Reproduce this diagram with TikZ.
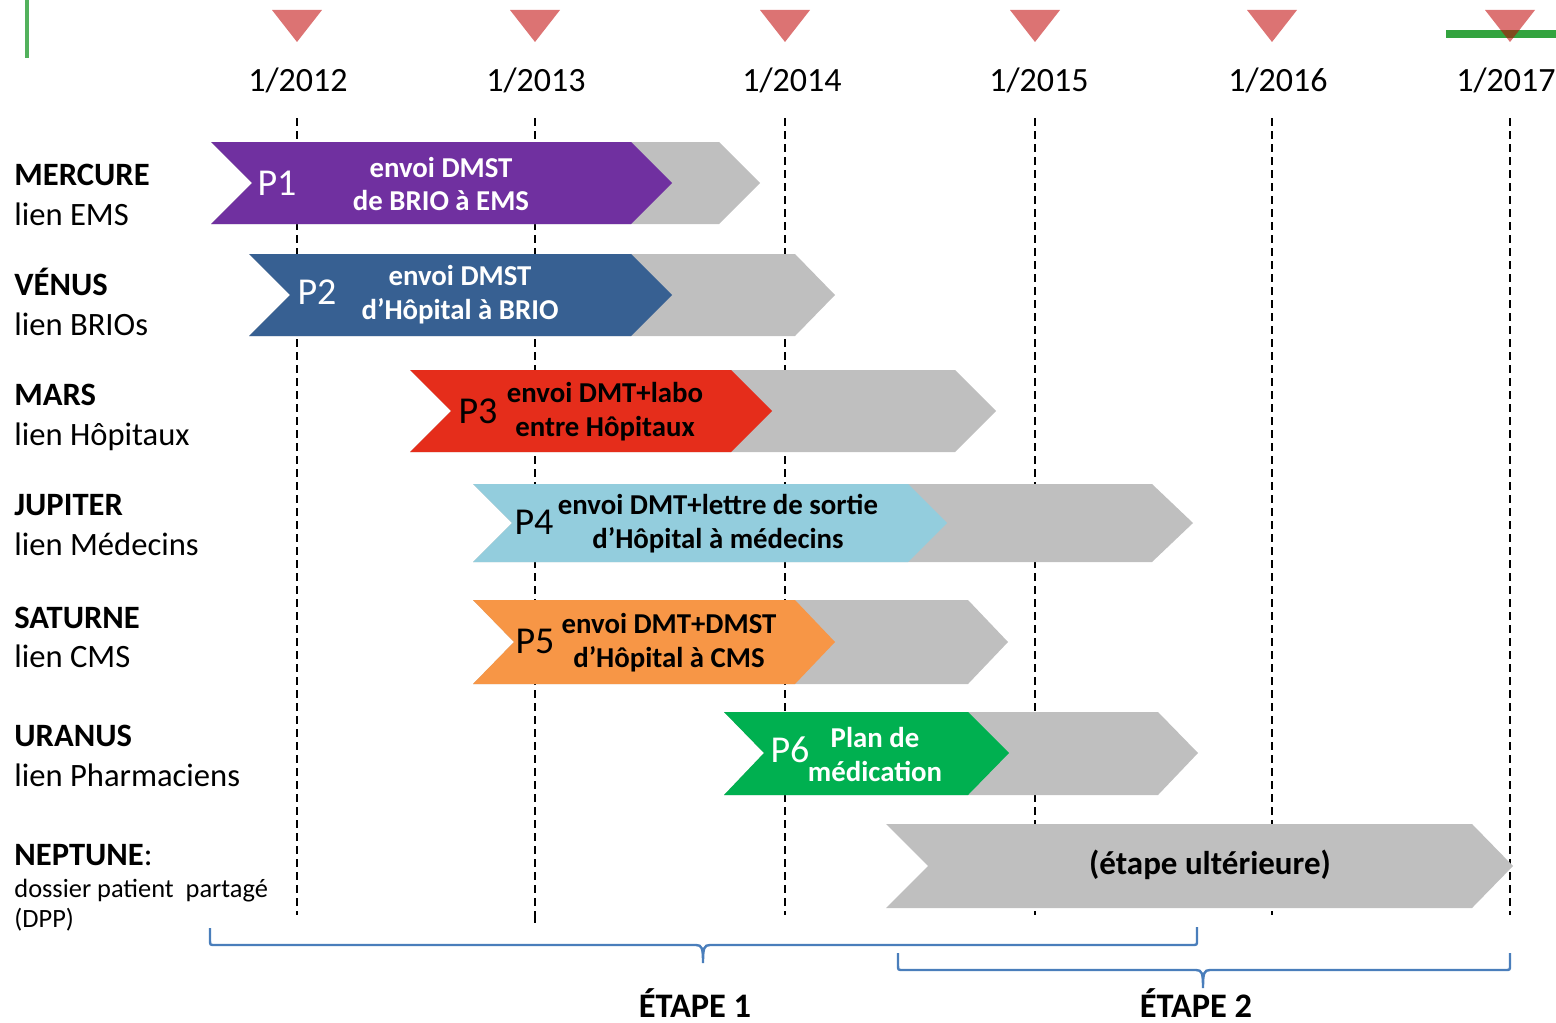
\documentclass[tikz,border=0pt]{standalone}
\usepackage{fontspec}
\setmainfont{Carlito}
\usepackage{xcolor}
\usepackage{tikz}

\definecolor{mercure}{HTML}{7030A0}
\definecolor{venus}{HTML}{376092}
\definecolor{mars}{HTML}{E52D1B}
\definecolor{jupiter}{HTML}{93CDDD}
\definecolor{saturne}{HTML}{F79646}
\definecolor{uranus}{HTML}{00B050}
\definecolor{gris}{HTML}{BFBFBF}
\definecolor{marque}{HTML}{C00000}
\definecolor{vert}{HTML}{33A33F}
\definecolor{accolade}{HTML}{4A7EBB}

\begin{document}
\begin{tikzpicture}[x=0.5pt,y=-0.5pt,
  planet/.style={anchor=base west,inner sep=0pt,font=\fontsize{16.3}{19}\selectfont\bfseries},
  lien/.style={anchor=base west,inner sep=0pt,font=\fontsize{16.3}{19}\selectfont},
  petit/.style={anchor=base west,inner sep=0pt,font=\fontsize{13.2}{15}\selectfont},
  year/.style={anchor=base,inner sep=0pt,font=\fontsize{17}{20}\selectfont},
  yline/.style={line width=1pt,dash pattern=on 4pt off 2.5pt},
  pnum/.style={font=\fontsize{19}{22}\selectfont},
  ptext/.style={align=center,font=\fontsize{14.4}{17}\selectfont\bfseries},
  brace/.style={draw=accolade,line width=1.2pt},
  etape/.style={anchor=base,inner sep=0pt,font=\fontsize{17.2}{20}\selectfont\bfseries}]
\useasboundingbox (0,0) rectangle (1556,1022);

% marques vertes
\draw[line width=2pt,color=vert!85] (27,0) -- (27,58);
\draw[line width=4pt,color=vert] (1446,34) -- (1556,34);

% annees
\foreach \x/\lx/\yr in {297/298/2012,535/536/2013,785/792/2014,1035/1039/2015,1272/1278/2016,1510/1506/2017}{
  \fill[marque,opacity=0.55] (\x-25,10) -- (\x+25,10) -- (\x,42) -- cycle;
  \node[year] (y\yr) at (\lx,91) {1/\yr};
  \draw[yline] (\x,118) -- (\x,915);
}
\draw[yline] (535,915) -- (535,925);

% MERCURE
\fill[gris] (211,142) -- (719,142) -- (760,183) -- (719,224) -- (211,224) -- (252,183) -- cycle;
\fill[mercure] (211,142) -- (631,142) -- (672,183) -- (631,224) -- (211,224) -- (252,183) -- cycle;
\node[pnum,white] (p1) at (277,183) {P1};
\node[ptext,white] (t1) at (441,184) {envoi DMST\\de BRIO à EMS};

% VENUS
\fill[gris] (249,254) -- (795,254) -- (835,295) -- (795,336) -- (249,336) -- (290,295) -- cycle;
\fill[venus] (249,254) -- (631,254) -- (672,295) -- (631,336) -- (249,336) -- (290,295) -- cycle;
\node[pnum,white] (p2) at (317,292) {P2};
\node[ptext,white] (t2) at (460,295) {envoi DMST\\d’Hôpital à BRIO};

% MARS
\fill[gris] (410,370) -- (955,370) -- (996,411) -- (955,452) -- (410,452) -- (451,411) -- cycle;
\fill[mars] (410,370) -- (731,370) -- (772,411) -- (731,452) -- (410,452) -- (451,411) -- cycle;
\node[pnum] (p3) at (478,411) {P3};
\node[ptext] (t3) at (605,412) {envoi DMT+labo\\entre Hôpitaux};

% JUPITER
\fill[gris] (473,484) -- (1152,484) -- (1193,523) -- (1152,562) -- (473,562) -- (512,523) -- cycle;
\fill[jupiter] (473,484) -- (908,484) -- (947,523) -- (908,562) -- (473,562) -- (512,523) -- cycle;
\node[pnum] (p4) at (534,522) {P4};
\node[ptext] (t4) at (718,524) {envoi DMT+lettre de sortie\\d’Hôpital à médecins};

% SATURNE
\fill[gris] (473,600) -- (968,600) -- (1008,642) -- (968,684) -- (473,684) -- (514,642) -- cycle;
\fill[saturne] (473,600) -- (795,600) -- (835,642) -- (795,684) -- (473,684) -- (514,642) -- cycle;
\node[pnum] (p5) at (535,641) {P5};
\node[ptext] (t5) at (669,643) {envoi DMT+DMST\\d’Hôpital à CMS};

% URANUS
\fill[gris] (724,712) -- (1158,712) -- (1198,753) -- (1158,795) -- (724,795) -- (764,753) -- cycle;
\fill[uranus] (724,712) -- (968,712) -- (1009,753) -- (968,795) -- (724,795) -- (764,753) -- cycle;
\node[pnum,white] (p6) at (790,750) {P6};
\node[ptext,white] (t6) at (875,754) {Plan de\\médication};

% NEPTUNE
\fill[gris] (886,824) -- (1472,824) -- (1513,866) -- (1472,908) -- (886,908) -- (928,866) -- cycle;
\node[ptext,font=\fontsize{16.5}{19}\selectfont\bfseries] (t7) at (1210,865) {(étape ultérieure)};

% planetes
\node[planet] (mercure) at (14,185) {MERCURE};
\node[lien] (lmercure) at (14,225) {lien EMS};
\node[planet] (venus) at (14,295) {VÉNUS};
\node[lien] (lvenus) at (14,335) {lien BRIOs};
\node[planet] (mars) at (14,405) {MARS};
\node[lien] (lmars) at (14,445) {lien Hôpitaux};
\node[planet] (jupiter) at (14,515) {JUPITER};
\node[lien] (ljupiter) at (14,555) {lien Médecins};
\node[planet] (saturne) at (14,628) {SATURNE};
\node[lien] (lsaturne) at (14,667) {lien CMS};
\node[planet] (uranus) at (14,746) {URANUS};
\node[lien] (luranus) at (14,786) {lien Pharmaciens};
\node[planet] (neptune) at (14,865) {NEPTUNE\mdseries:};
\node[petit] (lneptune) at (14,897) {dossier patient\ \ partagé};
%\node[petit] at (14,927) {DPP};
\node[petit] (dpp) at (14,927) {(DPP)};

% accolades
\draw[brace] (210,928) -- (210,940) .. controls (210,945) .. (215,945) -- (696,945)
  .. controls (702,945) and (703,948) .. (703,963)
  .. controls (703,948) and (704,945) .. (710,945) -- (1192,945)
  .. controls (1197,945) .. (1197,940) -- (1197,927);
\draw[brace] (898,953) -- (898,965) .. controls (898,970) .. (903,970) -- (1196,970)
  .. controls (1202,970) and (1203,973) .. (1203,988)
  .. controls (1203,973) and (1204,970) .. (1210,970) -- (1505,970)
  .. controls (1510,970) .. (1510,965) -- (1510,953);
\node[etape] (etape1) at (695,1017) {ÉTAPE 1};
\node[etape] (etape2) at (1196,1017) {ÉTAPE 2};
\end{tikzpicture}
\end{document}
